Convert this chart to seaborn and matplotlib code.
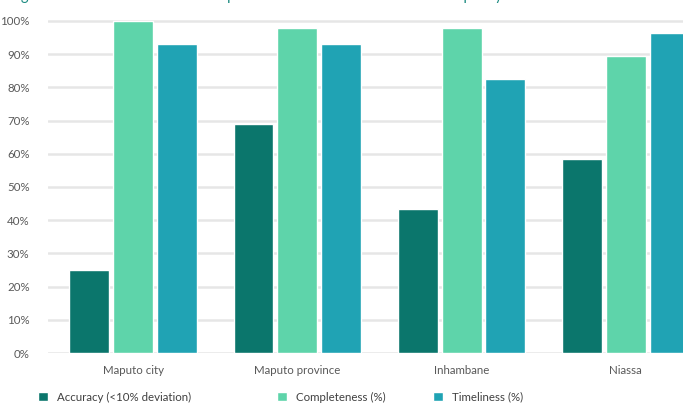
import pandas as pd
import numpy as np
import matplotlib
matplotlib.use("Agg")
import matplotlib.pyplot as plt
import seaborn as sns

# data
provinces = ["Maputo city", "Maputo province", "Inhambane", "Niassa"]
accuracy = [25, 69, 43.5, 58.5]
completeness = [100, 98, 98, 89.5]
timeliness = [93, 93, 82.5, 96.5]
series_names = ["Accuracy (<10% deviation)", "Completeness (%)", "Timeliness (%)"]
colors = ["#0b766c", "#5ed4aa", "#20a3b4"]

df = pd.DataFrame({"province": provinces,
                   series_names[0]: accuracy,
                   series_names[1]: completeness,
                   series_names[2]: timeliness})
long = df.melt(id_vars="province", var_name="measure", value_name="pct")

sns.set_style("white")
plt.rcParams["font.family"] = ["Lato", "DejaVu Sans"]

W, H = 683, 404
fig = plt.figure(figsize=(W / 100, H / 100), dpi=100)
ax = fig.add_axes([47.6 / W, (H - 353) / H, 660.4 / W, 334 / H])

sns.barplot(data=long, x="province", y="pct", hue="measure", palette=colors,
            width=0.8, gap=0.09, saturation=1, ax=ax, legend=True)

ax.set_xlim(-0.52, 3.5)
ax.set_ylim(0, 100.6)
ax.set_yticks(np.arange(0, 101, 10))
ax.set_yticklabels([f"{v}%" for v in range(0, 101, 10)])
ax.yaxis.grid(True, color="#e6e6e6", linewidth=1.8)
ax.set_axisbelow(True)
for s in ax.spines.values():
    s.set_visible(False)
ax.tick_params(axis="both", length=0, labelsize=8.3, colors="#595959")
ax.tick_params(axis="x", pad=9)
ax.tick_params(axis="y", pad=13)
ax.set_xlabel("")
ax.set_ylabel("")

# legend: three separate entries like the original
handles, labels = ax.get_legend_handles_labels()
ax.get_legend().remove()
xpos = [33, 272, 428]
for h, l, x in zip(handles, labels, xpos):
    fig.legend([h], [l], loc="center left", bbox_to_anchor=(x / W, 1 - 397 / H),
               frameon=False, fontsize=8.3, handlelength=0.9, handleheight=0.9,
               handletextpad=0.8, labelcolor="#404040", borderaxespad=0)

# title sits mostly above the visible area, only descenders show
fig.text(9 / W, 1 + 0.5 / H,
         "Figure 3: Routine data in the four provinces assessed for routine data quality",
         color="#1a8a80", fontsize=10.5, ha="left", va="baseline")

fig.savefig("out.png", dpi=100)
